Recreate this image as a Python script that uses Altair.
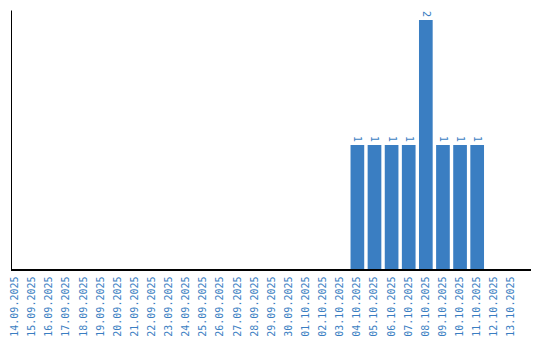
import altair as alt
import pandas as pd

dates = ["14.09.2025", "15.09.2025", "16.09.2025", "17.09.2025", "18.09.2025",
         "19.09.2025", "20.09.2025", "21.09.2025", "22.09.2025", "23.09.2025",
         "24.09.2025", "25.09.2025", "26.09.2025", "27.09.2025", "28.09.2025",
         "29.09.2025", "30.09.2025", "01.10.2025", "02.10.2025", "03.10.2025",
         "04.10.2025", "05.10.2025", "06.10.2025", "07.10.2025", "08.10.2025",
         "09.10.2025", "10.10.2025", "11.10.2025", "12.10.2025", "13.10.2025"]
counts = [0, 0, 0, 0, 0, 0, 0, 0, 0, 0,
          0, 0, 0, 0, 0, 0, 0, 0, 0, 0,
          1, 1, 1, 1, 2, 1, 1, 1, 0, 0]

df = pd.DataFrame({"date": dates, "count": counts})
bars_df = df[df["count"] > 0]

BLUE = "#3a7ec2"
FONT = "DejaVu Sans Mono"

x = alt.X("date:N", sort=dates, title=None,
          scale=alt.Scale(domain=dates, range=[-2.75, 507.25], paddingInner=0.2, paddingOuter=0),
          axis=alt.Axis(labelAngle=-90, labelColor=BLUE, labelFont=FONT, labelFontSize=10,
                        ticks=False, domain=False, labelPadding=6, grid=False))
y = alt.Y("count:Q", title=None,
          scale=alt.Scale(domain=[0, 2.08], nice=False),
          axis=alt.Axis(labels=False, ticks=False, grid=False, domainColor="black", domainWidth=1))

bars = alt.Chart(bars_df).mark_bar(color=BLUE).encode(x=x, y=y)
texts = alt.Chart(bars_df).mark_text(angle=90, align="right", baseline="middle", dx=-3,
                                     color=BLUE, font=FONT, fontSize=10).encode(
    x=x, y=y, text="count:Q")
baseline = alt.Chart(bars_df).mark_rule(color="black", strokeWidth=1).encode(
    x=alt.value(0), x2=alt.value(520), y=alt.value(260))

chart = alt.layer(bars, texts, baseline).properties(
    width=520, height=260,
    autosize=alt.AutoSizeParams(type="none"),
    padding={"left": 11, "top": 10, "right": 9, "bottom": 70},
    background="white",
).configure_view(stroke=None)

chart.save("out.html", embed_options={"renderer": "svg", "actions": False})
